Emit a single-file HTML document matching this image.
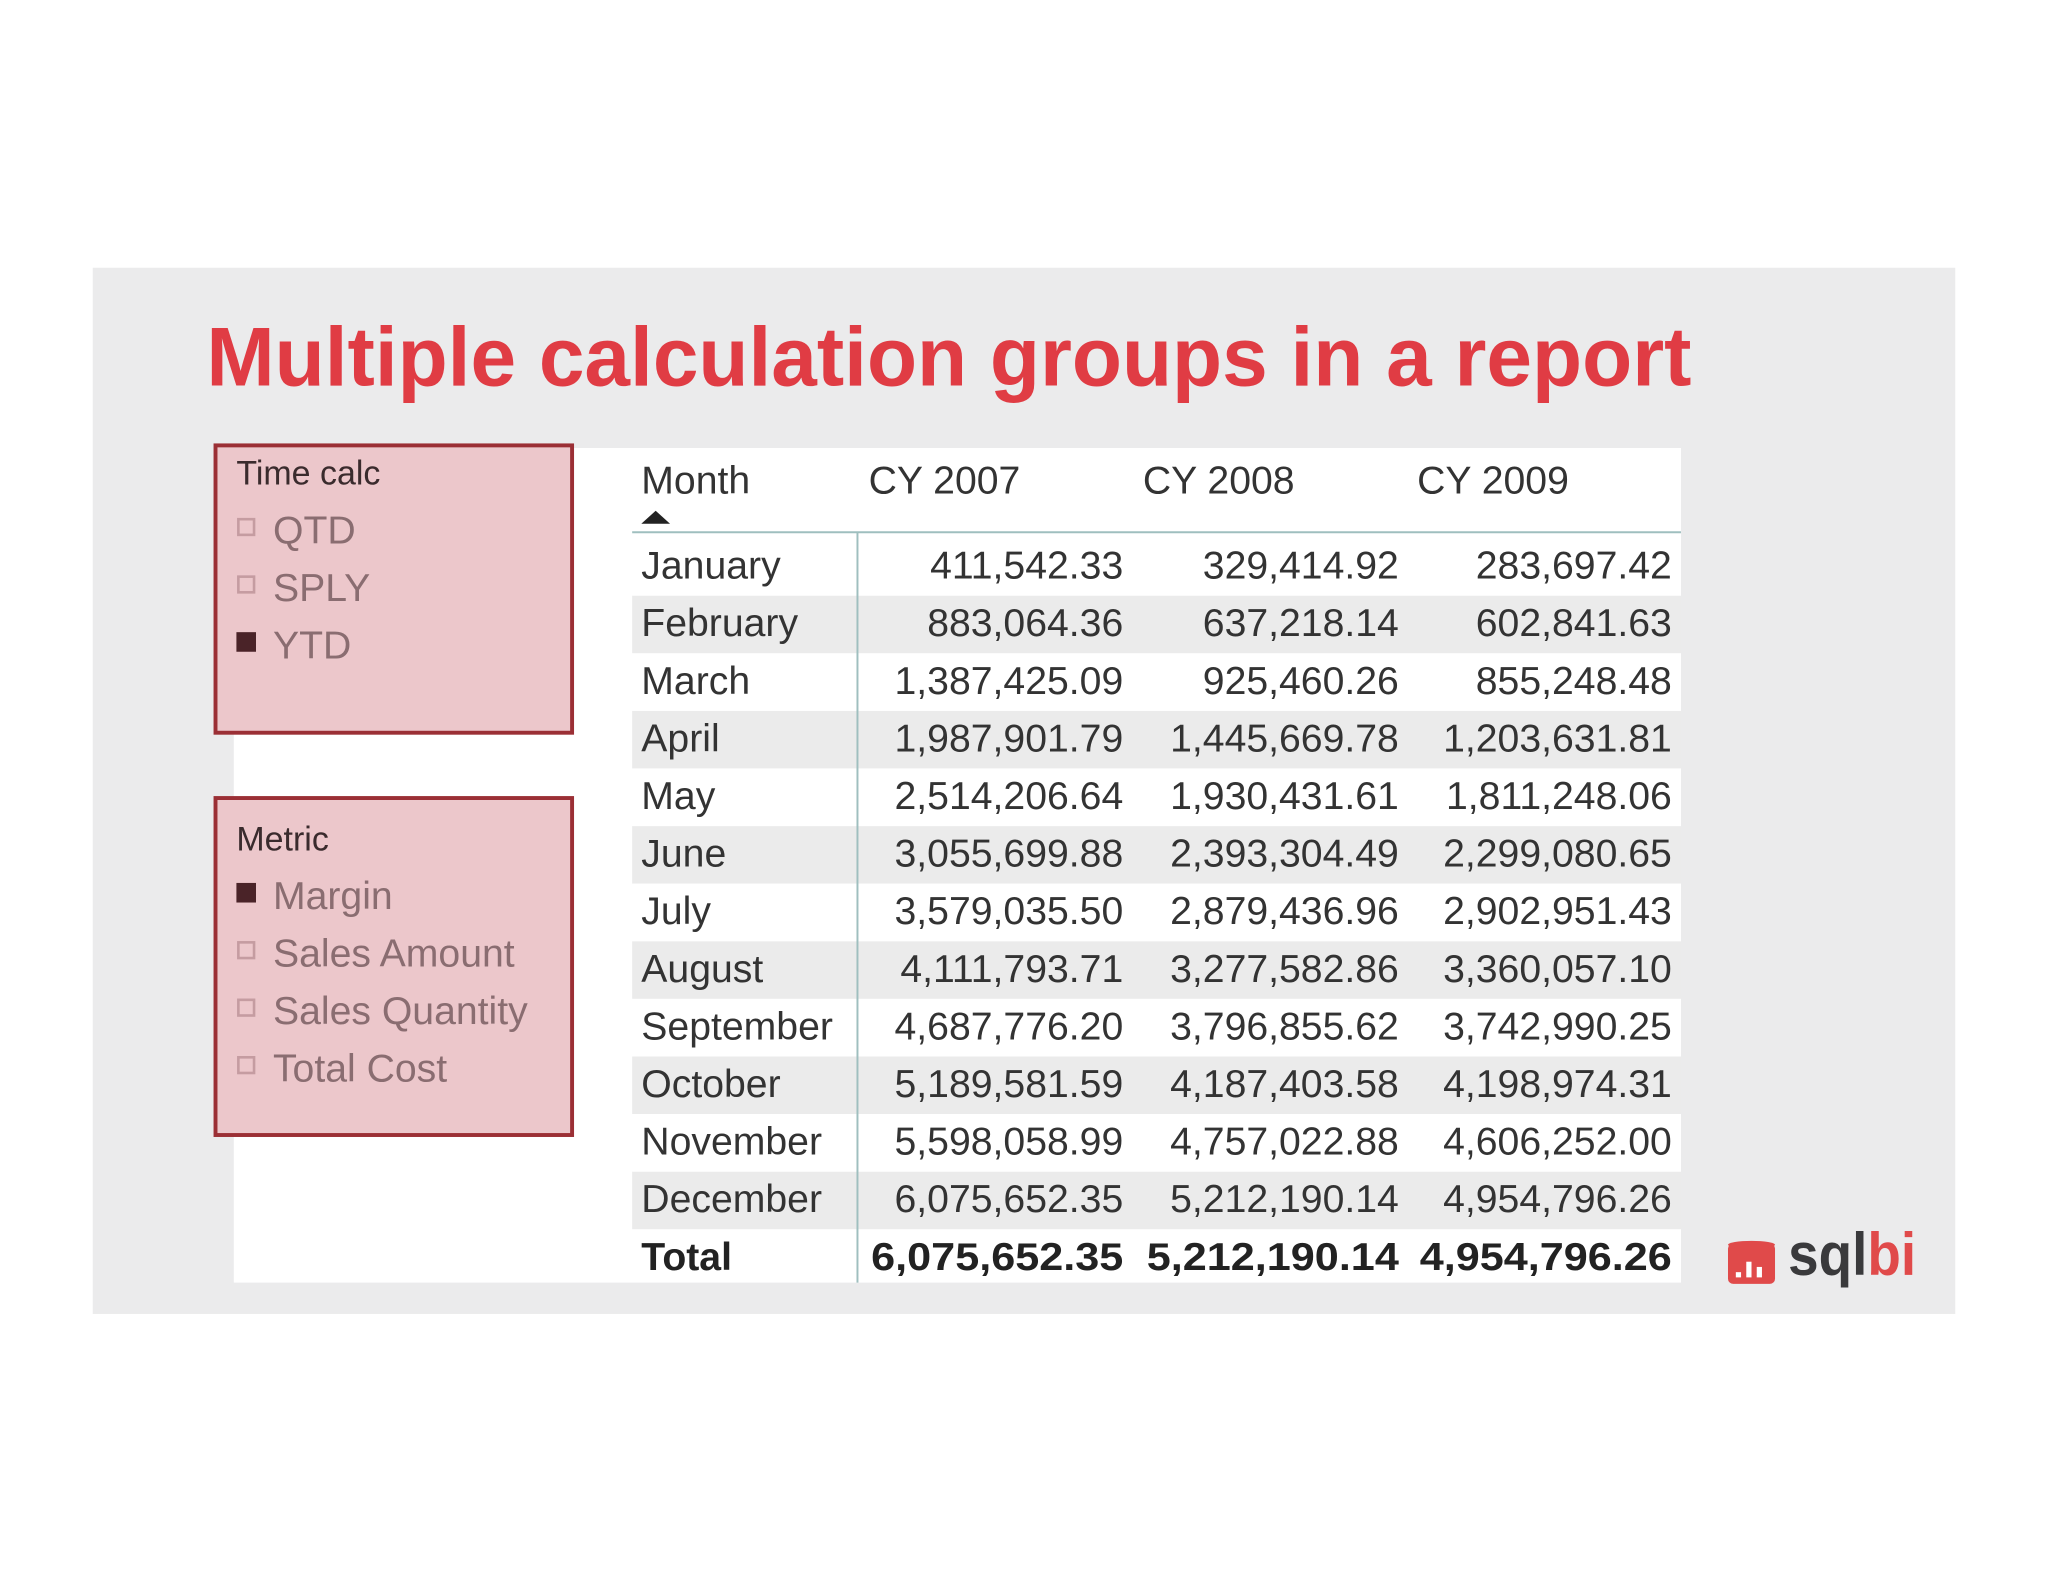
<!DOCTYPE html>
<html><head><meta charset="utf-8"><style>
html,body{margin:0;padding:0;background:#fff;width:2048px;height:1582px;overflow:hidden}
svg{display:block}
text{font-family:"Liberation Sans",sans-serif}
</style></head><body>
<svg id="chart" width="2048" height="1582" viewBox="0 0 2048 1582" xmlns="http://www.w3.org/2000/svg">
<g transform="scale(1.30612)">
<rect x="71" y="205" width="1426" height="801" fill="#ebebec"/>
<text x="158" y="295" font-size="64" font-weight="bold" fill="#e03c44" textLength="1137" lengthAdjust="spacingAndGlyphs">Multiple calculation groups in a report</text>
<rect x="179" y="343" width="1108" height="639" fill="#fff"/>
<rect x="179" y="343" width="305" height="2" fill="#fff"/>
<g id="slicer1">
<rect x="165" y="341" width="273" height="220" fill="#ecc7cb" stroke="#9b2f35" stroke-width="3"/>
<text x="181" y="371" font-size="26" fill="#3a2b2d">Time calc</text>
</g>
<g id="slicer2">
<rect x="165" y="611" width="273" height="258" fill="#ecc7cb" stroke="#9b2f35" stroke-width="3"/>
<text x="181" y="651" font-size="26" fill="#3a2b2d">Metric</text>
</g>
<g id="table">
<text x="491" y="378" font-size="30" fill="#333">Month</text>
<path d="M491 401 L502 391 L513 401 Z" fill="#222"/>
<line x1="484" y1="407.5" x2="1287" y2="407.5" stroke="#9fbfbf" stroke-width="1.5"/>
</g>
<g id="logo">
<rect x="1323" y="952" width="36" height="31" rx="4" fill="#e04a4a"/>
<ellipse cx="1341" cy="953" rx="18" ry="3" fill="#e04a4a"/>
<rect x="1329" y="974" width="4" height="4" fill="#fff"/>
<rect x="1337" y="966" width="4" height="12" fill="#fff"/>
<rect x="1345" y="970" width="4" height="8" fill="#fff"/>
<text x="1369" y="976" font-size="46" font-weight="bold" fill="#3a3a3c" textLength="98" lengthAdjust="spacingAndGlyphs">sql<tspan fill="#e04a4a">bi</tspan></text>
</g>
</g>
</svg>
<script>
const timeItems = ["QTD","SPLY","YTD"];
const timeSelected = [false,false,true];
const metricItems = ["Margin","Sales Amount","Sales Quantity","Total Cost"];
const metricSelected = [true,false,false,false];
const years = ["CY 2007","CY 2008","CY 2009"];
const months = ["January","February","March","April","May","June","July","August","September","October","November","December"];
const cy2007 = ["411,542.33","883,064.36","1,387,425.09","1,987,901.79","2,514,206.64","3,055,699.88","3,579,035.50","4,111,793.71","4,687,776.20","5,189,581.59","5,598,058.99","6,075,652.35"];
const cy2008 = ["329,414.92","637,218.14","925,460.26","1,445,669.78","1,930,431.61","2,393,304.49","2,879,436.96","3,277,582.86","3,796,855.62","4,187,403.58","4,757,022.88","5,212,190.14"];
const cy2009 = ["283,697.42","602,841.63","855,248.48","1,203,631.81","1,811,248.06","2,299,080.65","2,902,951.43","3,360,057.10","3,742,990.25","4,198,974.31","4,606,252.00","4,954,796.26"];
const totals = ["6,075,652.35","5,212,190.14","4,954,796.26"];

const NS = "http://www.w3.org/2000/svg";
function mk(tag, attrs, parent, txt){
  const e = document.createElementNS(NS, tag);
  for (const k in attrs) e.setAttribute(k, attrs[k]);
  if (txt !== undefined) e.textContent = txt;
  parent.appendChild(e);
  return e;
}
function slicer(parentId, items, sel, y0){
  const g = document.getElementById(parentId);
  items.forEach((it, i) => {
    const y = y0 + i * 44;
    const box = mk('rect', sel[i] ? {x:181,y:y-20,width:15,height:15,fill:'#4a2328'} : {x:182.5,y:y-18.5,width:12,height:12,fill:'none',stroke:'#c59ca1','stroke-width':2}, g);
    
    
    const t = mk('text', {x:209, y:y, 'font-size':30, fill:'#8a6d71'}, g, it);
    
    
  });
}
slicer('slicer1', timeItems, timeSelected, 416);
slicer('slicer2', metricItems, metricSelected, 696);

const tg = document.getElementById('table');
const rowY = i => 443 + i * 44.1;
const colRight = [860, 1071, 1280];
const colHeadX = [665, 875, 1085];
months.forEach((m, i) => {
  if (i % 2 === 1) {
    const b = mk('rect', {x:484, y:rowY(i)-31, width:803, height:44, fill:'#ebebeb'}, tg);
    
    
  }
});
years.forEach((y, j) => {
  const t = mk('text', {x:colHeadX[j], y:378, 'font-size':30, fill:'#333'}, tg, y);
  
  
});
const cols = [cy2007, cy2008, cy2009];
months.forEach((m, i) => {
  const t = mk('text', {x:491, y:rowY(i), 'font-size':30, fill:'#333'}, tg, m);
  
  
  cols.forEach((c, j) => {
    const v = mk('text', {x:colRight[j], y:rowY(i), 'font-size':30, fill:'#333', 'text-anchor':'end'}, tg, c[i]);
    
    
  });
});
const ty = rowY(months.length);
const tl = mk('text', {x:491, y:ty, 'font-size':30, 'font-weight':'bold', fill:'#222'}, tg, 'Total');


totals.forEach((v, j) => {
  const t = mk('text', {x:colRight[j], y:ty, 'font-size':30, 'font-weight':'bold', fill:'#222', 'text-anchor':'end', textLength:193, lengthAdjust:'spacingAndGlyphs'}, tg, v);
  
  
});
const vl = mk('line', {x1:656.5, y1:407, x2:656.5, y2:982, stroke:'#9fbfbf', 'stroke-width':1.5}, tg);


</script>
</body></html>
